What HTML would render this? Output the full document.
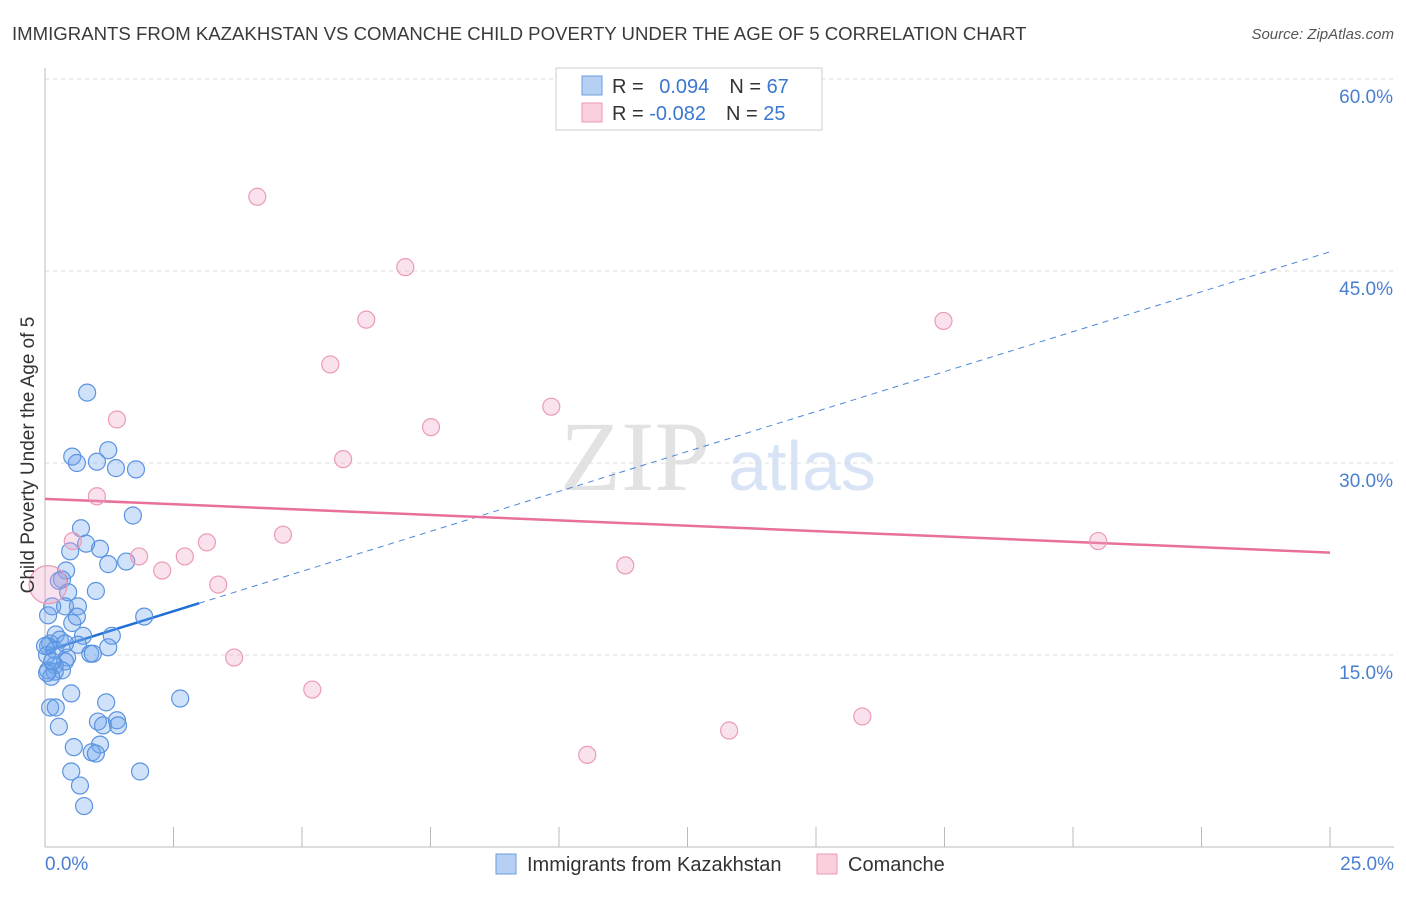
<!DOCTYPE html>
<html><head><meta charset="utf-8"><style>
body{margin:0;background:#fff;font-family:"Liberation Sans",sans-serif;}
</style></head><body>
<svg width="1406" height="892" font-family="Liberation Sans, sans-serif">
<text x="12" y="40" font-size="18.6" fill="#3a3a3a">IMMIGRANTS FROM KAZAKHSTAN VS COMANCHE CHILD POVERTY UNDER THE AGE OF 5 CORRELATION CHART</text>
<text x="1394" y="39" font-size="15" fill="#555" font-style="italic" text-anchor="end">Source: ZipAtlas.com</text>
<g>
<text x="635" y="490" font-size="100" fill="#e2e2e2" font-family="Liberation Serif, serif" text-anchor="middle">ZIP</text>
<text x="802" y="490" font-size="70" fill="#d8e4f5" text-anchor="middle">atlas</text></g>
<g id="grid"></g><g id="axes"></g><g id="trends"></g><g id="pts"></g>
<text transform="translate(34,455) rotate(-90)" font-size="19" fill="#333" text-anchor="middle">Child Poverty Under the Age of 5</text>
<g>
<rect x="556" y="68" width="266" height="62" fill="#fff" stroke="#ccc"/>
<rect x="582" y="76" width="20" height="19" fill="#b5d0f3" stroke="#6b9de0"/>
<rect x="582" y="103" width="20" height="19" fill="#fbd0dd" stroke="#ec9ab5"/>
<text x="612" y="93" font-size="20" fill="#333">R = <tspan fill="#3a78d0" dx="10">0.094</tspan><tspan dx="20" fill="#333">N = </tspan><tspan fill="#3a78d0">67</tspan></text>
<text x="612" y="120" font-size="20" fill="#333">R = <tspan fill="#3a78d0">-0.082</tspan><tspan dx="20" fill="#333">N = </tspan><tspan fill="#3a78d0">25</tspan></text>
</g>
<g>
<rect x="496" y="854" width="20" height="20" fill="#b5d0f3" stroke="#6b9de0"/>
<text x="527" y="871" font-size="20" fill="#333">Immigrants from Kazakhstan</text>
<rect x="817" y="854" width="20" height="20" fill="#fbd0dd" stroke="#ec9ab5"/>
<text x="848" y="871" font-size="20" fill="#333">Comanche</text>
</g>
</svg>
<script>
const blueX=[0.82,0.53,0.62,1.23,1.01,1.38,1.77,1.71,0.70,0.80,0.49,1.07,1.23,1.58,0.41,0.33,0.27,0.45,0.99,0.14,0.39,0.64,0.53,0.62,0.21,0.74,1.30,1.93,0.10,0.29,0.06,0.64,0.88,0.93,0.43,0.39,0.19,0.06,0.33,0.19,0.12,0.51,2.63,1.19,0.10,0.21,0.27,1.03,1.13,1.40,1.42,0.56,1.07,0.91,0.99,0.51,1.85,0.68,0.76,0.06,0.04,0.04,0.0,0.19,0.14,0.39,1.23];
const blueY=[35.5,30.5,30.0,31.0,30.1,29.6,29.5,25.9,24.9,23.7,23.1,23.3,22.1,22.3,21.6,20.9,20.8,19.9,20.0,18.8,18.8,18.8,17.5,18.0,16.6,16.5,16.5,18.0,15.9,16.2,15.7,15.8,15.1,15.1,14.8,14.5,14.2,13.8,13.8,13.7,13.3,12.0,11.6,11.3,10.9,10.9,9.4,9.8,9.5,9.9,9.5,7.8,8.0,7.4,7.3,5.9,5.9,4.8,3.2,18.1,15.0,13.6,15.7,15.4,14.5,15.9,15.6];
const pinkX=[4.13,7.01,6.25,17.48,5.55,1.40,9.85,7.51,5.80,1.01,4.63,0.54,3.15,1.83,2.72,2.28,3.37,11.29,20.49,3.68,5.20,15.90,13.31,10.55,0.06];
const pinkY=[50.8,45.3,41.2,41.1,37.7,33.4,34.4,32.8,30.3,27.4,24.4,23.9,23.8,22.7,22.7,21.6,20.5,22.0,23.9,14.8,12.3,10.2,9.1,7.2,20.5];
const yTicks=[15,30,45,60];
const xTickLabels=["0.0%","25.0%"];
const blueTrend=[15.3,46.5];
const pinkTrend=[27.2,23.0];
const blueSolidEnd=3.0;

const NS="http://www.w3.org/2000/svg";
const X=v=>45+v/25*1285, Y=v=>847-v/60*768;
function mk(parent,tag,attrs){const e=document.createElementNS(NS,tag);for(const k in attrs)e.setAttribute(k,attrs[k]);document.getElementById(parent).appendChild(e);return e;}
yTicks.forEach(t=>{
  const l=mk('grid','line',{x1:45,x2:1394,y1:Y(t),y2:Y(t),stroke:'#ddd','stroke-dasharray':'4,4'});
  
  
  const tx=mk('grid','text',{x:1393,y:Y(t)+24,'font-size':19,fill:'#4a7fd0','text-anchor':'end'});
  tx.textContent=t.toFixed(1)+'%';
  
  
});
const ax=mk('axes','line',{x1:45,x2:45,y1:68,y2:847,stroke:'#bbb'});


const bx=mk('axes','line',{x1:45,x2:1394,y1:847,y2:847,stroke:'#bbb'});


for(let i=0;i<=10;i++){const t=mk('axes','line',{x1:X(i*2.5),x2:X(i*2.5),y1:827,y2:847,stroke:'#bbb'});

}
[[0,'start',45],[1,'end',1394]].forEach(([i,a,x])=>{const t=mk('axes','text',{x:x,y:870,'font-size':19,fill:'#4a7fd0','text-anchor':a});t.textContent=xTickLabels[i];

});
const yb=v=>blueTrend[0]+(blueTrend[1]-blueTrend[0])*v/25;
const l1=mk('trends','line',{x1:X(blueSolidEnd),y1:Y(yb(blueSolidEnd)),x2:X(25),y2:Y(yb(25)),stroke:'#4a86d8','stroke-width':1,'stroke-dasharray':'6,5'});


const l2=mk('trends','line',{x1:X(0),y1:Y(yb(0)),x2:X(blueSolidEnd),y2:Y(yb(blueSolidEnd)),stroke:'#1f6fd6','stroke-width':2.5});


const l3=mk('trends','line',{x1:X(0),y1:Y(pinkTrend[0]),x2:X(25),y2:Y(pinkTrend[1]),stroke:'#e8709a','stroke-width':2.5});


blueX.forEach((x,i)=>{const c=mk('pts','circle',{cx:X(x),cy:Y(blueY[i]),r:8.5,fill:'rgba(110,165,235,0.32)',stroke:'#5b93e0','stroke-width':1.2});

});
pinkX.forEach((x,i)=>{const c=mk('pts','circle',{cx:X(x),cy:Y(pinkY[i]),r:i==pinkX.length-1?19:8.5,fill:'rgba(235,160,200,0.3)',stroke:'#ec9ab5','stroke-width':1.2});

});
</script>
</body></html>
